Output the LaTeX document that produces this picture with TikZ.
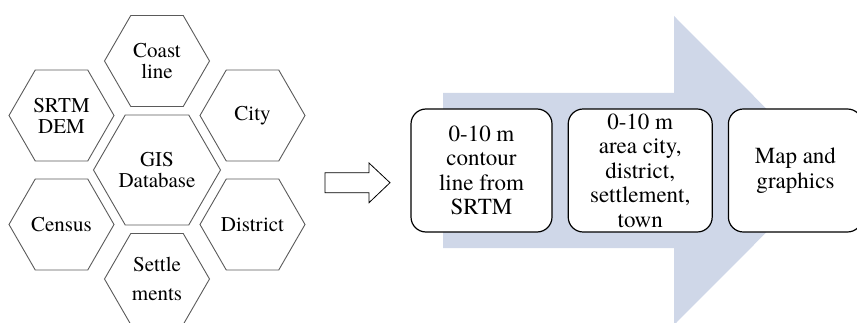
\documentclass[tikz,border=0pt]{standalone}
\usepackage{fontspec}
\setmainfont{TeX Gyre Termes}
\usetikzlibrary{positioning,shapes.geometric}
\definecolor{arrowblue}{RGB}{207,215,232}
\definecolor{hexgray}{RGB}{90,90,90}

\begin{document}
\begin{tikzpicture}[x=1pt, y=1pt,
node distance={15pt},
hexnode/.style = {draw=hexgray, line width=0.9pt, regular polygon, regular polygon sides=6, minimum size=105pt, inner sep=0pt, font=\fontsize{21}{21}\selectfont},
boxnode/.style={rectangle, rounded corners=15pt, draw=black, fill=white, line width=1.2pt, minimum height=123pt, inner sep=0pt, font=\fontsize{23}{24.5}\selectfont}]
\tikzstyle{every node}=[align=center]
\useasboundingbox (0,0) rectangle (857,322);
\clip (0,0) rectangle (857,322);
\fill[arrowblue] (443,229) -- (674,229) -- (674,306) -- (828,151.5) -- (674,-3) -- (674,74) -- (443,74) -- cycle;
\draw[line width=0.8pt, fill=white] (325,149.3) -- (369,149.3) -- (369,159) -- (390,139.3) -- (369,119.3) -- (369,129.3) -- (325,129.3) -- cycle;
\node[hexnode, minimum size=127pt] (1) at (157,152) {GIS\\Database};
\node[hexnode] (2) [on grid, above=109pt of 1] {Coast\\line};
\node[hexnode] (3) [on grid, above left=54.5pt and 95.5pt of 1] {SRTM\\DEM};
\node[hexnode] (4) [on grid, above right=54.5pt and 95.5pt of 1] {City};
\node[hexnode] (5) [on grid, below left=54.5pt and 95.5pt of 1] {Census};
\node[hexnode] (6) [on grid, below right=54.5pt and 95.5pt of 1] {District};
\node[hexnode, font=\fontsize{21}{29}\selectfont] (7) [on grid, below=109pt of 1] {Settle\\ments};
\node[boxnode, minimum width=141pt] (8) at (481.5,151.5) {0-10 m\\contour\\line from\\SRTM};
\node[boxnode, minimum width=144pt] (9) [right=of 8] {0-10 m\\area city,\\district,\\settlement,\\town};
\node[boxnode, minimum width=134pt] (10) [right=of 9] {Map and\\graphics};
\end{tikzpicture}
\end{document}
